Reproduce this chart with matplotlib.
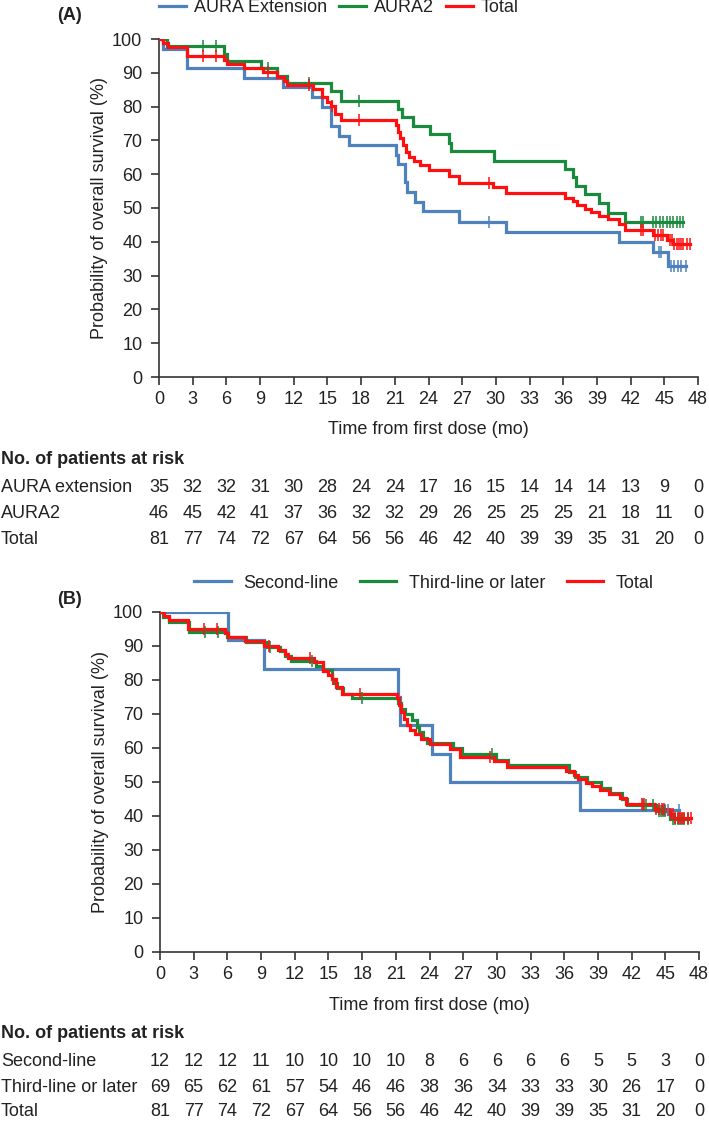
import matplotlib
matplotlib.use("Agg")
import matplotlib.pyplot as plt
from matplotlib.transforms import blended_transform_factory
from matplotlib.lines import Line2D
import numpy as np

plt.rcParams['font.family'] = ['Liberation Sans', 'DejaVu Sans']

# ---------------- data ----------------
months_ticks = list(range(0, 49, 3))
y_ticks = list(range(0, 101, 10))

# Panel A
ext_t = [0, 0.4, 2.5, 7.6, 11.0, 13.65, 14.5, 15.3, 16.0, 16.9, 21.1, 21.3, 21.9, 22.1,
         22.8, 23.5, 26.7, 30.9, 41.0, 44.0, 45.3]
ext_s = [100, 97.1, 91.4, 88.6, 85.7, 82.9, 80.0, 74.3, 71.4, 68.6, 65.7, 62.9, 57.8, 54.8,
         51.9, 49.0, 46.0, 43.0, 40.0, 37.0, 32.8]
ext_c = [29.4, 44.5, 44.7, 45.6, 45.9, 46.2, 46.5, 46.9]

aura2_t = [0, 0.7, 5.8, 6.1, 9.1, 10.5, 11.4, 15.3, 16.2, 21.3, 21.6, 22.6, 24.1, 25.8,
           26.0, 29.8, 36.2, 36.9, 37.1, 37.9, 39.2, 40.0, 41.5]
aura2_s = [100, 97.8, 95.7, 93.5, 91.3, 89.1, 87.0, 84.6, 81.8, 79.2, 76.8, 74.3, 71.8, 69.1,
           67.0, 64.0, 61.5, 59.3, 56.5, 54.1, 51.4, 48.6, 46.0]
aura2_c = [3.9, 5.1, 9.7, 13.4, 17.8, 42.9, 43.1, 44.0, 44.3, 44.6, 44.9, 45.2, 45.5, 45.8,
           46.1, 46.4, 46.7]

tot_t = [0, 0.4, 0.8, 2.5, 5.8, 6.1, 7.6, 9.3, 10.5, 11.1, 11.4, 13.7, 14.5, 15.0, 15.3,
         15.7, 16.2, 21.1, 21.3, 21.5, 21.7, 22.0, 22.3, 22.7, 23.2, 24.0, 25.8, 26.7, 29.7,
         30.9, 36.2, 36.9, 37.2, 37.9, 38.5, 39.2, 40.0, 41.0, 41.5, 44.0, 45.2, 45.8]
tot_s = [100, 98.8, 97.5, 95.1, 93.8, 92.6, 91.4, 90.1, 88.9, 87.6, 86.4, 85.2, 82.7, 81.5,
         80.2, 77.8, 76.0, 74.6, 72.6, 70.6, 68.6, 66.7, 65.2, 64.0, 62.7, 61.2, 59.6, 57.3,
         56.1, 54.3, 53.1, 52.0, 50.8, 49.7, 48.7, 47.7, 46.6, 45.3, 43.4, 42.0, 40.5, 39.3]
tot_c = [3.9, 5.1, 9.7, 13.4, 15.4, 17.8, 29.4, 42.9, 43.1, 44.2, 44.4, 44.7, 44.9, 45.5,
         45.7, 45.9, 46.1, 46.3, 46.5, 46.7, 47.0, 47.3]

# Panel B
sec_t = [0, 6.1, 9.3, 21.2, 21.4, 24.2, 25.8, 37.4]
sec_s = [100, 91.7, 83.3, 75.0, 66.7, 58.3, 50.0, 41.7]
sec_c = [44.8, 45.0, 45.2, 46.2]

third_t = [0, 0.3, 0.8, 2.6, 6.0, 7.7, 9.5, 10.7, 11.1, 11.7, 13.9, 14.5, 15.3, 15.5, 15.8,
           16.3, 17.1, 21.2, 21.5, 21.8, 22.4, 22.9, 23.1, 23.4, 23.8, 26.1, 26.9, 29.9,
           31.0, 36.4, 37.0, 38.0, 39.3, 40.1, 41.1, 41.6, 44.2, 45.4]
third_s = [100, 98.6, 97.1, 94.2, 92.7, 91.2, 89.8, 88.4, 87.0, 85.7, 84.2, 82.8, 80.2, 79.0,
           77.5, 75.9, 74.6, 73.1, 71.6, 70.1, 68.1, 66.3, 64.6, 62.9, 61.4, 59.9, 58.2, 56.5,
           55.0, 53.0, 51.6, 50.1, 48.1, 46.7, 44.9, 43.2, 41.4, 39.0]
third_c = [4.0, 5.2, 9.8, 13.5, 15.4, 18.0, 29.6, 43.0, 43.3, 43.9, 44.4, 44.6, 44.8, 45.0,
           45.7, 45.9, 46.1, 46.3, 46.5, 46.7, 47.0]

# at-risk tables
risk_A_labels = ["AURA extension", "AURA2", "Total"]
risk_A = [[35, 32, 32, 31, 30, 28, 24, 24, 17, 16, 15, 14, 14, 14, 13, 9, 0],
          [46, 45, 42, 41, 37, 36, 32, 32, 29, 26, 25, 25, 25, 21, 18, 11, 0],
          [81, 77, 74, 72, 67, 64, 56, 56, 46, 42, 40, 39, 39, 35, 31, 20, 0]]
risk_B_labels = ["Second-line", "Third-line or later", "Total"]
risk_B = [[12, 12, 12, 11, 10, 10, 10, 10, 8, 6, 6, 6, 6, 5, 5, 3, 0],
          [69, 65, 62, 61, 57, 54, 46, 46, 38, 36, 34, 33, 33, 30, 26, 17, 0],
          [81, 77, 74, 72, 67, 64, 56, 56, 46, 42, 40, 39, 39, 35, 31, 20, 0]]

legend_A = ["AURA Extension", "AURA2", "Total"]
legend_B = ["Second-line", "Third-line or later", "Total"]

BLUE = "#4f81bd"
GREEN = "#1a8a3c"
RED = "#ff1010"
TXT = "#222222"

W, H = 709, 1123
fig = plt.figure(figsize=(W / 100, H / 100), dpi=100)


def fx(px):
    return px / W


def fy(py):
    return 1 - py / H


FS = 13


def km(ax, t, s, c, color):
    t = np.asarray(t, float)
    s = np.asarray(s, float)
    end = max(t.max(), max(c))
    tt = np.append(t, end)
    ss = np.append(s, s[-1])
    ax.step(tt, ss, where="post", color=color, lw=2.3, solid_joinstyle="miter", zorder=3)
    c = np.asarray(c, float)
    idx = np.searchsorted(t, c, side="right") - 1
    ax.plot(c, s[idx], ls="none", marker="|", ms=8, mew=1.1, color=color, zorder=4)


def panel(ax_rect, series, legend_labels, legend_center, legend_kw, tag_y, risk_labels, risk,
          xlab_y, title_y, row_ys, tag):
    ax = fig.add_axes(ax_rect)
    for t, s, c, col in series:
        km(ax, t, s, c, col)
    ax.set_xlim(0, 48)
    ax.set_ylim(0, 100)
    ax.set_xticks(months_ticks)
    ax.set_yticks(y_ticks)
    for sp in ["top", "right"]:
        ax.spines[sp].set_visible(False)
    for sp in ["left", "bottom"]:
        ax.spines[sp].set_color("#333333")
        ax.spines[sp].set_linewidth(1.2)
    ax.tick_params(axis="both", direction="out", length=6, width=1.2, color="#333333",
                   labelsize=FS, labelcolor=TXT)
    ax.tick_params(axis="x", pad=4)
    ax.tick_params(axis="y", pad=6)
    ax.set_ylabel("Probability of overall survival (%)", fontsize=FS, color=TXT, labelpad=3)
    fig.text(fx(ax_rect[0] * W + ax_rect[2] * W / 2), fy(xlab_y), "Time from first dose (mo)",
             ha="center", va="center", fontsize=FS, color=TXT)
    # legend
    handles = [Line2D([], [], color=col, lw=2.3) for (_, _, _, col) in series]
    fig.legend(handles, legend_labels, loc="center", bbox_to_anchor=legend_center, ncol=3,
               frameon=False, fontsize=FS, labelcolor=TXT, borderpad=0, borderaxespad=0,
               **legend_kw)
    fig.text(fx(57), fy(tag_y), tag, ha="left", va="center", fontsize=FS,
             fontweight="bold", color=TXT)
    # risk table
    tr = blended_transform_factory(ax.transData, fig.transFigure)
    fig.text(fx(1), fy(title_y), "No. of patients at risk", ha="left", va="center",
             fontsize=FS, fontweight="bold", color=TXT)
    for lab, row, yy in zip(risk_labels, risk, row_ys):
        fig.text(fx(1), fy(yy), lab, ha="left", va="center", fontsize=FS, color=TXT)
        for m, v in zip(months_ticks, row):
            ax.text(m, fy(yy), str(v), transform=tr, ha="center", va="center",
                    fontsize=FS, color=TXT, clip_on=False)
    return ax


axA_rect = [fx(159), fy(377), fx(698) - fx(159), fy(39) - fy(377)]
panel(axA_rect,
      [(ext_t, ext_s, ext_c, BLUE), (aura2_t, aura2_s, aura2_c, GREEN),
       (tot_t, tot_s, tot_c, RED)],
      legend_A, (fx(339), fy(8)),
      dict(handlelength=1.5, handletextpad=0.45, columnspacing=0.65),
      16, risk_A_labels, risk_A, 430, 459, [487, 513, 539], "(A)")

axB_rect = [fx(160), fy(952), fx(699) - fx(160), fy(612) - fy(952)]
panel(axB_rect,
      [(sec_t, sec_s, sec_c, BLUE), (third_t, third_s, third_c, GREEN),
       (tot_t, tot_s, tot_c, RED)],
      legend_B, (fx(424), fy(583)),
      dict(handlelength=2.0, handletextpad=0.7, columnspacing=1.2),
      600, risk_B_labels, risk_B, 1005, 1034, [1061, 1087, 1112], "(B)")

fig.savefig("out.png", dpi=100)
